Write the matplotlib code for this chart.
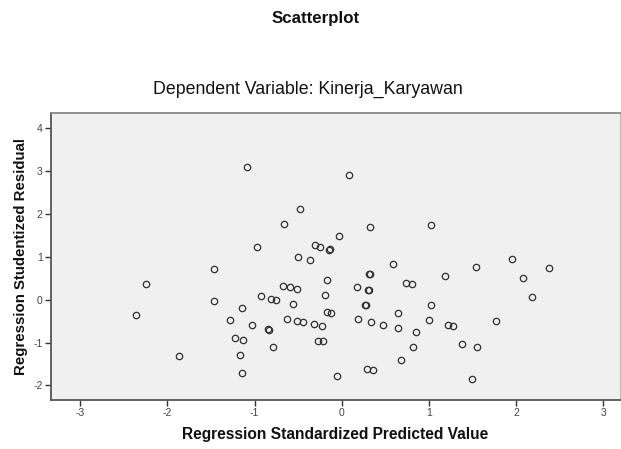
import matplotlib
matplotlib.use("Agg")
import matplotlib.pyplot as plt

plt.rcParams['font.family'] = ['Liberation Sans', 'DejaVu Sans']

pred = [-2.36, -2.24, -1.87, -1.47, -1.47, -1.28, -1.22, -1.17, -1.14, -1.13,
        -1.14, -1.09, -1.03, -0.97, -0.93, -0.85, -0.83, -0.81, -0.79, -0.75,
        -0.67, -0.66, -0.63, -0.59, -0.56, -0.51, -0.51, -0.50, -0.48, -0.44,
        -0.37, -0.32, -0.31, -0.27, -0.25, -0.23, -0.22, -0.19, -0.17, -0.17,
        -0.15, -0.13, -0.12, -0.06, -0.03, 0.08, 0.18, 0.19, 0.27, 0.28,
        0.29, 0.30, 0.31, 0.31, 0.32, 0.32, 0.33, 0.36, 0.47, 0.59,
        0.64, 0.65, 0.68, 0.74, 0.81, 0.82, 0.85, 1.00, 1.02, 1.02,
        1.18, 1.22, 1.28, 1.38, 1.49, 1.54, 1.55, 1.77, 1.95, 2.08,
        2.18, 2.38]
resid = [-0.35, 0.36, -1.32, 0.71, -0.02, -0.48, -0.89, -1.28, -0.20, -0.93,
         -1.71, 3.10, -0.60, 1.23, 0.08, -0.69, -0.70, 0.02, -1.10, 0.00,
         0.33, 1.78, -0.44, 0.29, -0.09, 0.25, -0.50, 0.99, 2.11, -0.53,
         0.93, -0.56, 1.28, -0.97, 1.23, -0.62, -0.97, 0.10, 0.47, -0.29,
         1.17, 1.18, -0.30, -1.78, 1.48, 2.92, 0.29, -0.45, -0.12, -0.13,
         -1.61, 0.22, 0.23, 0.59, 0.60, 1.69, -0.52, -1.64, -0.58, 0.84,
         -0.30, -0.67, -1.41, 0.39, 0.36, -1.11, -0.76, -0.48, -0.12, 1.74,
         0.55, -0.58, -0.61, -1.03, -1.85, 0.77, -1.11, -0.49, 0.96, 0.50,
         0.07, 0.75]

x_ticks = [-3, -2, -1, 0, 1, 2, 3]
y_ticks = [-2, -1, 0, 1, 2, 3, 4]

fig = plt.figure(figsize=(6.21, 4.49), dpi=100)
fig.patch.set_facecolor('white')
ax = fig.add_axes([51/621, 49/449, 569/621, 287/449])
ax.set_facecolor('#f0f0f0')

ax.plot(pred, resid, linestyle='none', marker='o', markersize=4.6,
        markerfacecolor='none', markeredgecolor='#303030', markeredgewidth=0.9)

ax.set_xlim(-3.334, 3.19)
ax.set_ylim(-2.34, 4.36)
ax.set_xticks(x_ticks)
ax.set_yticks(y_ticks)
ax.set_xticklabels([str(t) for t in x_ticks])
ax.set_yticklabels([str(t) for t in y_ticks])
ax.tick_params(axis='both', direction='out', length=4, width=1.0,
               colors='#333333', labelsize=7.5, labelcolor='#444444', pad=2)

for s in ['left', 'bottom']:
    ax.spines[s].set_color('#555555')
    ax.spines[s].set_linewidth(1.3)
ax.spines['top'].set_color('#888888')
ax.spines['top'].set_linewidth(1.3)
ax.spines['right'].set_color('#bbbbbb')
ax.spines['right'].set_linewidth(0.8)

ax.set_xlabel('Regression Standardized Predicted Value', fontsize=11.2,
              fontweight='bold', color='#111111', labelpad=6)
ax.set_ylabel('Regression Studentized Residual', fontsize=10.8,
              fontweight='bold', color='#111111', labelpad=4)

fig.text(0.508, 1 - 18/449, 'Scatterplot', ha='center', va='center',
         fontsize=12.2, fontweight='bold', color='#111111')
fig.text(0.496, 1 - 89/449, 'Dependent Variable: Kinerja_Karyawan',
         ha='center', va='center', fontsize=12.8, color='#111111')

fig.savefig('out.png', dpi=100)
